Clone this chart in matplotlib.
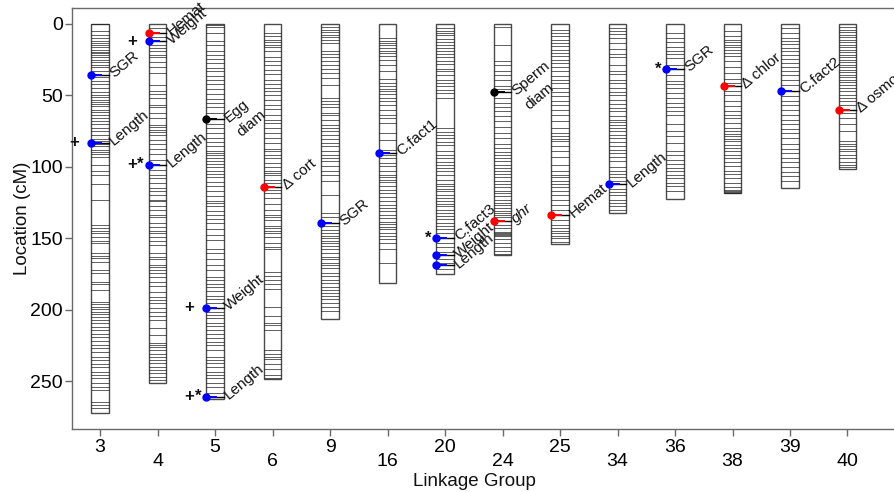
import matplotlib
matplotlib.use('Agg')
import matplotlib.pyplot as plt
from matplotlib.patches import Rectangle
import numpy as np

plt.rcParams['font.family'] = ['Liberation Sans', 'DejaVu Sans']

# ---------------- data ----------------
groups = ['3', '4', '5', '6', '9', '16', '20', '24', '25', '34', '36', '38', '39', '40']
lengths = [272.5, 251, 262.5, 248.7, 206.7, 181.5, 175, 162, 154, 132, 122.7, 118.6, 115, 101.3]

m3 = [0, 4.7, 8, 9.8, 11.7, 13.3, 14.9, 16.3, 18.5, 19.3, 20.1, 22, 23.3, 25, 26.6, 28.5, 30.3, 33, 35.5,
      37.3, 39.7, 42, 44.8, 47.6, 49.4, 51.3, 53, 54.6, 56, 57.6, 60, 61.6, 63.5, 65.8, 68, 70, 72.8, 75,
      77.5, 80.3, 82.1, 84, 85.6, 88, 89.6, 91, 93.3, 98.5, 103, 105.5, 112, 123, 140.7, 143, 144.7, 146.5,
      148.9, 151.7, 153.5, 160.5, 162.4, 164, 166.4, 172.2, 174.5, 180.4, 182, 186.2, 194.4, 196, 197.9,
      199.7, 201.4, 203, 204.9, 207.2, 209.5, 211.9, 214.2, 217, 219.3, 221.7, 224.7, 227, 229.4, 232.9,
      235.2, 238, 240.3, 243.4, 245.7, 248, 251.5, 253.9, 256.2, 264.4, 266.7, 269]
m4 = [2.8, 6.3, 9.3, 12.1, 14.5, 16.8, 19.1, 21.5, 23.3, 26.6, 30.3, 34.3, 42.5, 46.7, 49, 51.8, 57, 58.3,
      62.3, 65.8, 71, 72.3, 74, 75.6, 77.5, 81, 84, 87.3, 91, 95, 98.5, 102, 105.5, 107.8, 111.3, 114.8,
      117.1, 119.5, 123, 124.1, 127.6, 130, 133.5, 135.3, 139.1, 141.9, 144.7, 146.5, 148.9, 151.7, 154.7,
      160.5, 162.9, 164.7, 168.7, 170.3, 172.2, 174.5, 176.9, 180.4, 183.4, 187.4, 191.3, 193.2, 195.5,
      198.6, 201.4, 204.4, 207.2, 213, 217.7, 223.1, 224.7, 226.3, 228.2, 231, 232.9, 235.2, 237.5, 239.9,
      242.2, 244.5, 246.9, 249.2]
m5 = [0.5, 2.3, 6.3, 11.7, 14.9, 19.1, 22, 24.3, 27.3, 30.8, 33.1, 36.6, 38.9, 42, 45.3, 49, 52.3, 55.3,
      58.3, 62.3, 66.7, 70, 72.8, 76.3, 79.8, 82.6, 85.6, 88.7, 90.3, 92, 93.8, 95.7, 98, 100.3, 102.7, 105,
      107.3, 110.6, 113.6, 117.1, 120.6, 123.7, 125.3, 127.6, 130.7, 133.5, 136.7, 139.5, 143.7, 147.7,
      151.2, 157.7, 160.5, 164.7, 168.7, 172.2, 176.9, 179.2, 182, 184.3, 186.7, 190.4, 192.7, 195.5,
      198.6, 201.4, 203.7, 206, 209.5, 211.4, 214.2, 217, 220, 222.4, 224.7, 228.2, 232.9, 235.2, 237.5,
      239.9, 243.4, 245.7, 248, 251, 253.9, 258, 260.9]
m6 = [6.3, 8.6, 11, 12.6, 14.5, 16.3, 19.1, 23.3, 26.1, 28.5, 31.9, 35, 38.9, 42, 44.8, 47.1, 49.5, 53,
      56.5, 59.3, 63.5, 66.9, 69.3, 72.8, 76.3, 79.8, 83.3, 87.3, 89.1, 91.5, 93.8, 97.3, 100.3, 102.7,
      104.3, 105.9, 109, 111.3, 113.9, 116, 118.3, 121.8, 126, 130, 133.5, 135.3, 137.2, 141.4, 143, 144.7,
      146.5, 149.3, 153, 156.3, 157.7, 173.4, 176.4, 179.2, 182, 185.7, 197.9, 204.4, 209.1, 210.7, 214.2,
      228.2, 231, 232.9, 234.7, 238, 241.7, 245.7, 248]
m9 = [2.3, 4, 5.6, 7.5, 9.3, 11, 13.3, 19.1, 21, 23.3, 26.1, 28.5, 31.3, 34.3, 37.8, 42.5, 51.8, 53.7, 56,
      58.3, 62.3, 64, 67, 70.5, 72.8, 75.1, 77.5, 80.3, 83.3, 85.6, 88.7, 91.5, 93.8, 96.1, 99.6, 103.1,
      105.9, 110.1, 119.5, 132.3, 134.9, 139, 141.4, 144.2, 146.5, 148.4, 150, 151.7, 153.1, 155.4, 157.7,
      160.1, 162.9, 164.7, 167.1, 168.7, 171, 174.1, 176.4, 179.2, 181.5, 184.3, 186.2, 188.5, 190.4,
      192.7, 195.5, 197.9, 200.7]
m16 = [9.8, 11.7, 13.3, 14.9, 16.8, 18.7, 20.3, 22.6, 25, 28.5, 33.1, 38.3, 41.3, 43.6, 45.3, 47.1, 49,
       51.8, 54.1, 57, 60, 63.5, 65.8, 69.3, 76.3, 81, 88, 90, 91.5, 93.8, 97.3, 99.6, 103.1, 105.5, 107.3,
       109, 110.6, 113.6, 116, 118.3, 121.3, 123.7, 126.5, 128.8, 131.1, 133.5, 136, 138.4, 140, 141.9,
       143.7, 146.1, 148.4, 150.7, 153.1, 157.7, 167.5]
m20 = [2.8, 4.7, 6.3, 8, 10.3, 12.6, 14.5, 16.8, 19.1, 21, 23.3, 25.6, 28, 31.3, 33.1, 35.5, 38.9, 41.3,
       43.6, 45.9, 48.3, 51.8, 72.8, 75.6, 77.5, 79.8, 82.6, 84.9, 88.7, 91.5, 93.8, 96.6, 98.9, 100.8,
       103.1, 105.5, 109.5, 112, 113.6, 115.3, 117.1, 119.5, 121.8, 123.7, 126, 127.6, 130, 132.3, 134.6,
       136.7, 139.1, 141.4, 143.7, 146.5, 150, 153.5, 156.3, 159.4, 162, 164.7, 167.1, 169, 171.7]
m24 = [2.3, 14.5, 26.1, 28.9, 32.7, 35.5, 38.9, 43.6, 45.3, 47.8, 51.8, 55.3, 58.3, 61.1, 64.6, 68.1,
       72.3, 76.3, 79.8, 84, 86.8, 89.6, 92, 93.8, 95.7, 98.5, 100.8, 103.1, 105, 107.3, 109.7, 112, 114.3,
       116.7, 118.3, 120.6, 123, 125.3, 127, 128.8, 130.7, 132.3, 134, 135.3, 137.7, 140.7, 143, 145.4,
       146.5, 147, 147.5, 148.4, 150.7, 153.5, 156.3, 158.7, 161]
m25 = [4, 6.3, 8.6, 11, 13.3, 15.6, 17.9, 20.3, 22.6, 25, 27.3, 30.3, 33.1, 36.6, 38.9, 41.3, 44.8, 47.6,
       50.6, 53.7, 56.5, 60, 63.5, 68.1, 72.8, 76.3, 78.6, 80.3, 82.1, 85.6, 89.1, 93.3, 98.5, 103.1, 105.5,
       107.3, 109.7, 112, 114.3, 116.7, 119.5, 123, 126.5, 130, 133.7, 137.2, 140.7, 143, 144.7, 146.5,
       148.4, 150, 152.4]
m34 = [2.8, 4.7, 7, 9.8, 13.3, 17.3, 21, 23.3, 28.5, 32.7, 35, 38.9, 41.3, 44.8, 47.6, 49.9, 53, 56, 58.8,
       61.1, 64.6, 67, 68.6, 70.5, 72.8, 75.1, 77.5, 79.8, 82.6, 85.6, 88, 90.3, 93.3, 96.1, 100.3, 103.1,
       105, 107.3, 110.1, 112.2, 115.3, 117.6, 119.9, 123, 125.3, 127.6, 130]
m36 = [6.3, 9.8, 12.6, 16.3, 18.7, 21, 23.8, 28.5, 31.5, 35.5, 39.7, 42, 44.8, 48.3, 51.8, 55.3, 58.3, 60.7,
       63.5, 70, 75.1, 78.6, 83.3, 88.7, 92, 95, 98, 100.8, 103.1, 105.5, 107.8, 111.3, 113.6, 117.1]
m38 = [5.1, 8.6, 11, 12.6, 14.5, 16.3, 17.9, 20.3, 22.6, 25.6, 30.3, 34.3, 38.3, 41.3, 43.4, 46.7, 49.9,
       54.1, 57.6, 60.7, 63.5, 65.8, 69.3, 72.8, 75.1, 77, 78.6, 80.3, 82.1, 84.5, 86.8, 89.1, 91.5, 93.8,
       96.6, 99.6, 102.7, 105, 107.8, 111.3, 114.3, 116, 116.7, 117.4, 118.1]
m39 = [2.8, 6.3, 9.8, 12.1, 14, 16.8, 19.1, 21.5, 24.3, 27.3, 30.3, 33.1, 36, 38.9, 42.5, 46.7, 50.6, 54.1,
       57, 60, 63.5, 67, 70, 73.3, 76.3, 79.8, 84, 87.3, 90.3, 93.8, 96.6, 100.3, 103.6, 106.6, 110.1]
m40 = [2.3, 4, 5.6, 7.5, 9.3, 11, 12.6, 14.5, 16.3, 17.9, 19.6, 21.5, 23.3, 25, 26.6, 28.5, 30.3, 32, 33.6,
       35.5, 37.3, 39, 40.6, 42.5, 44.8, 47.1, 49.5, 51.8, 54.1, 57, 60.2, 62.3, 65.8, 70, 74.6, 82.1, 84,
       85.6, 87.3, 89.1, 91.5, 93.8, 96.6, 98.5, 100.3]

qtl_group = ['3', '3', '4', '4', '4', '5', '5', '5', '6', '9', '16', '20', '20', '20', '24', '24', '25',
             '34', '36', '38', '39', '40']
qtl_pos = [35.7, 83, 6.3, 12.1, 98.5, 66.7, 198.6, 260.9, 113.9, 139, 90, 150, 162, 169, 47.8, 137.7,
           133.7, 112.2, 31.5, 43.4, 46.7, 60.2]
qtl_label = ['SGR', 'Length', 'Hemat', 'Weight', 'Length', 'Egg\ndiam', 'Weight', 'Length', 'Δ cort',
             'SGR', 'C.fact1', 'C.fact3', 'Weight', 'Length', 'Sperm\ndiam', 'ghr', 'Hemat', 'Length',
             'SGR', 'Δ chlor', 'C.fact2', 'Δ osmo']
qtl_color = ['blue', 'blue', 'red', 'blue', 'blue', 'black', 'blue', 'blue', 'red', 'blue', 'blue',
             'blue', 'blue', 'blue', 'black', 'red', 'red', 'blue', 'blue', 'red', 'blue', 'red']
qtl_sig = ['', '+', '', '+', '+*', '', '+', '+*', '', '', '', '*', '', '', '', '', '', '', '*', '', '', '']
qtl_italic = ['ghr']

markers = dict(zip(groups, [m3, m4, m5, m6, m9, m16, m20, m24, m25, m34, m36, m38, m39, m40]))

# ---------------- plot ----------------
W, H = 894, 492
fig = plt.figure(figsize=(W / 100, H / 100), dpi=100)
ax = fig.add_axes([72 / W, 1 - 429 / H, 1 - 72 / W + 0.002, (429 - 8) / H])

xs = np.arange(1, len(groups) + 1)
xpos = dict(zip(groups, xs))
half = 0.15
spine_col = '#6a6a6a'

for g, L in zip(groups, lengths):
    x = xpos[g]
    ax.add_patch(Rectangle((x - half, 0), 2 * half, L, facecolor='white',
                           edgecolor='#4a4a4a', lw=1.0, zorder=2))
    ax.hlines(markers[g], x - half, x + half, color='#1a1a1a', lw=0.65, alpha=0.75, zorder=3)

ang = 40
perp = (np.sin(np.radians(ang)), -np.cos(np.radians(ang)))
for g, p, lab, c, s in zip(qtl_group, qtl_pos, qtl_label, qtl_color, qtl_sig):
    x = xpos[g]
    ax.plot([x - half, x + half], [p, p], color='black', lw=1.0, zorder=4)
    ax.plot([x - half, x + 0.02], [p, p], color=c, lw=1.4, zorder=5)
    ax.plot([x - half], [p], 'o', color=c, ms=5, zorder=6, clip_on=False)
    lines = lab.split('\n')
    for k, ln in enumerate(lines):
        style = 'italic' if ln in qtl_italic else 'normal'
        ax.annotate(ln, xy=(x + half, p), xytext=(2 + perp[0] * 14 * k, perp[1] * 14 * k),
                    textcoords='offset points', rotation=ang, rotation_mode='anchor',
                    ha='left', va='center', fontsize=11, color='#111111', fontstyle=style,
                    zorder=7, annotation_clip=False)
    for ch in s:
        off = -0.45 if ch == '+' else -0.3
        ax.text(x + off, p, ch, ha='center', va='center', fontsize=12, fontweight='bold',
                color='#111111', zorder=7)

ax.set_xlim(0.512, 14.84)
ax.set_ylim(283.5, -11.2)

for side in ['left', 'top', 'bottom']:
    ax.spines[side].set_color(spine_col)
    ax.spines[side].set_linewidth(1.0)
ax.spines['right'].set_visible(False)

ax.set_yticks([0, 50, 100, 150, 200, 250])
ax.tick_params(axis='y', length=5, width=1, color=spine_col, labelsize=14, pad=1.5)

ax.set_xticks(xs[0::2])
ax.set_xticklabels(groups[0::2])
ax.set_xticks(xs[1::2], minor=True)
ax.set_xticklabels(groups[1::2], minor=True)
ax.tick_params(axis='x', which='both', length=5, width=1, color=spine_col, labelsize=14)
ax.tick_params(axis='x', which='major', pad=2)
ax.tick_params(axis='x', which='minor', pad=12)

ax.set_xlabel('Linkage Group', fontsize=13.5, color='#111111')
ax.xaxis.set_label_coords(0.488, -0.104)
ax.set_ylabel('Location (cM)', fontsize=13.5, color='#111111')
ax.yaxis.set_label_coords(-0.05, 0.5)

fig.savefig('out.png', dpi=100)
